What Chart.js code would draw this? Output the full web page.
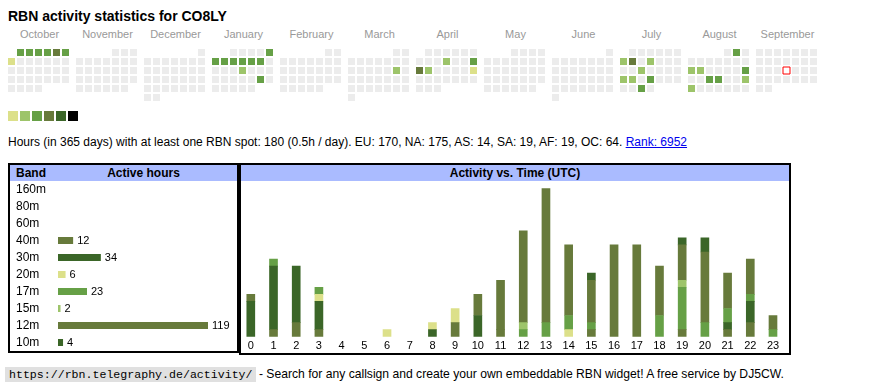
<!DOCTYPE html>
<html>
<head>
<meta charset="utf-8">
<script src="https://cdn.jsdelivr.net/npm/chart.js@4/dist/chart.umd.min.js"></script>
<style>
  html, body { margin:0; padding:0; background:#fff; }
  body { width:870px; height:390px; position:relative; overflow:hidden; font-family:"Liberation Sans", Arial, sans-serif; color:#000; }
  .abs { position:absolute; }
  #title { left:8px; top:9px; font-size:14px; line-height:14px; font-weight:bold; white-space:nowrap; }
  .month { top:29.4px; font-size:11px; line-height:11px; color:#999; width:63px; text-align:center; white-space:nowrap; }
  .leg { top:111px; width:10px; height:10px; }
  #stats { left:8px; top:135px; font-size:12px; line-height:15px; white-space:nowrap; }
  #stats a { color:#0000ee; text-decoration:underline; }
  .box { border:2px solid #000; box-sizing:border-box; z-index:5; }
  .hdr { background:#aabbff; height:16px; font-size:12px; line-height:16px; font-weight:bold; }
  #footer { left:5px; top:367px; font-size:12.15px; line-height:15px; white-space:nowrap; }
  #footer code { font-family:"Liberation Mono", "DejaVu Sans Mono", monospace; font-size:11.6px; background:#e0e0e0; padding:1px 3px 1px 4px; }
</style>
</head>
<body>
<div id="title" class="abs">RBN activity statistics for CO8LY</div>
<div id="months"></div>
<canvas id="cal" class="abs" width="870" height="130" style="left:0;top:0;width:870px;height:130px;"></canvas>
<div id="legend"></div>
<div id="stats" class="abs">Hours (in 365 days) with at least one RBN spot: 180 (0.5h / day). EU: 170, NA: 175, AS: 14, SA: 19, AF: 19, OC: 64. <a href="#">Rank: 6952</a></div>

<canvas id="bands" class="abs" width="227" height="170" style="left:10px;top:181px;width:227px;height:170px;"></canvas>
<canvas id="hours" class="abs" width="552" height="172" style="left:239px;top:181px;width:552px;height:172px;"></canvas>

<div class="abs box" style="left:8px;top:163px;width:231px;height:190px;"></div>
<div class="abs hdr" style="left:10px;top:165px;width:227px;">
  <span class="abs" style="left:6px;top:0;">Band</span>
  <span class="abs" style="left:40px;width:187px;top:0;text-align:center;">Active hours</span>
</div>
<div class="abs box" style="left:239px;top:163px;width:552px;height:192px;"></div>
<div class="abs hdr" style="left:241px;top:165px;width:548px;text-align:center;">Activity vs. Time (UTC)</div>

<div id="footer" class="abs"><code>https://rbn.telegraphy.de/activity/</code> - Search for any callsign and create your own embeddable RBN widget! A free service by DJ5CW.</div>

<script>
// ---------- DATA ----------
const monthNames = ['October','November','December','January','February','March','April','May','June','July','August','September'];
const startYear = 2024;
const startMonth = 9; // October (0-based)
const today = '2025-09-18';

const activeDates = [
  '2024-10-01','2024-10-02','2024-10-03','2024-10-04','2024-10-05','2024-10-06','2024-10-07',
  '2025-01-05','2025-01-06','2025-01-07','2025-01-08','2025-01-09','2025-01-10','2025-01-11','2025-01-16','2025-01-25',
  '2025-03-15',
  '2025-04-10','2025-04-13','2025-04-14','2025-04-15','2025-04-20',
  '2025-07-07','2025-07-08','2025-07-10','2025-07-16','2025-07-21','2025-07-22','2025-07-24','2025-07-30',
  '2025-08-02','2025-08-11','2025-08-12','2025-08-17','2025-08-20','2025-08-21','2025-08-24','2025-08-25'
];
const activeLevels = [
  3,3,3,3,4,3,1,
  3,3,3,3,3,3,3,2,3,
  2,
  2,3,4,2,1,
  2,4,2,2,2,2,3,3,
  3,2,2,3,3,3,2,2
];
const levelColors = ['#ececec','#dce08a','#9dc46a','#66a046','#677a3b','#3b6628','#000000'];

const bands = ['160m','80m','60m','40m','30m','20m','17m','15m','12m','10m'];
const bandHours = [0,0,0,12,34,6,23,2,119,4];
const bandColors = ['#dce08a','#9dc46a','#66a046','#677a3b','#3b6628','#dce08a','#66a046','#9dc46a','#677a3b','#3b6628'];

const hourLabels = ['0','1','2','3','4','5','6','7','8','9','10','11','12','13','14','15','16','17','18','19','20','21','22','23'];
const h160m = [0,0,0,0,0,0,0,0,0,0,0,0,0,0,0,0,0,0,0,0,0,0,0,0];
const h80m  = [0,0,0,0,0,0,0,0,0,0,0,0,0,0,0,0,0,0,0,0,0,0,0,0];
const h60m  = [0,0,0,0,0,0,0,0,0,0,0,0,0,0,0,0,0,0,0,0,0,0,0,0];
const h40m  = [0,1,2,1,0,0,0,0,0,2,0,1,0,0,0,1,0,0,0,1,0,1,2,0];
const h30m  = [5,9,8,4,0,0,0,0,1,0,3,0,0,0,0,0,0,0,0,0,0,1,3,0];
const h20m  = [0,0,0,1,0,0,1,0,1,2,0,0,0,0,1,0,0,0,0,0,0,0,0,0];
const h17m  = [0,1,0,1,0,0,0,0,0,0,0,0,1,2,2,1,0,0,3,6,2,2,1,1];
const h15m  = [0,0,0,0,0,0,0,0,0,0,0,0,1,0,0,0,0,0,0,1,0,0,0,0];
const h12m  = [1,0,0,0,0,0,0,0,0,0,3,7,13,19,10,6,13,13,7,5,10,5,5,2];
const h10m  = [0,0,0,0,0,0,0,0,0,0,0,0,0,0,0,1,0,0,0,1,2,0,0,0];
const hourSeries = [h160m,h80m,h60m,h40m,h30m,h20m,h17m,h15m,h12m,h10m];
const hourAxisMax = 22;

// ---------- LAYOUT ----------
Chart.defaults.font.family = '"Liberation Sans", Arial, sans-serif';
Chart.defaults.animation = false;
Chart.defaults.plugins.legend.display = false;
Chart.defaults.plugins.tooltip.enabled = false;

const CELL = 9, CELLSIZE = 7, MONTH_PX = 68, CAL_LEFT = 8, CAL_TOP = 49;
const nz = arr => arr.map(v => (v === 0 ? null : v)); // empty cells draw nothing

// month labels
const monthsDiv = document.getElementById('months');
monthNames.forEach((n, m) => {
  const d = document.createElement('div');
  d.className = 'abs month';
  d.style.left = (CAL_LEFT + MONTH_PX * m) + 'px';
  d.textContent = n;
  monthsDiv.appendChild(d);
});
// legend squares
const legDiv = document.getElementById('legend');
levelColors.slice(1).forEach((c, i) => {
  const d = document.createElement('div');
  d.className = 'abs leg';
  d.style.left = (8 + 12 * i) + 'px';
  d.style.background = c;
  legDiv.appendChild(d);
});

// calendar points
const levelByDate = {};
activeDates.forEach((d, i) => levelByDate[d] = activeLevels[i]);
const pad2 = n => (n < 10 ? '0' : '') + n;
const calPts = [], calCols = [], todayPts = [];
for (let m = 0; m < 12; m++) {
  const y = startYear + Math.floor((startMonth + m) / 12);
  const mo = (startMonth + m) % 12;
  const offset = (new Date(Date.UTC(y, mo, 1)).getUTCDay() + 6) % 7;
  const days = new Date(Date.UTC(y, mo + 1, 0)).getUTCDate();
  for (let d = 1; d <= days; d++) {
    const idx = offset + d - 1;
    const key = y + '-' + pad2(mo + 1) + '-' + pad2(d);
    const pt = { x: m * MONTH_PX / CELL + (idx % 7), y: Math.floor(idx / 7) };
    if (key === today) { todayPts.push(pt); continue; }
    calPts.push(pt);
    calCols.push(levelColors[levelByDate[key] || 0]);
  }
}
const xMin = -(CAL_LEFT + CELLSIZE / 2) / CELL;
const yMin = -(CAL_TOP + CELLSIZE / 2) / CELL;
const rectR = (CELLSIZE / 2) / Math.SQRT1_2;
new Chart(document.getElementById('cal'), {
  type: 'scatter',
  data: { datasets: [
    { data: calPts, pointStyle: 'rect', pointRadius: rectR, pointHoverRadius: rectR, pointBorderWidth: 0, pointBackgroundColor: calCols },
    { data: todayPts, pointStyle: 'rect', pointRadius: rectR, pointHoverRadius: rectR, pointBorderWidth: 1, pointBorderColor: '#ff0000', pointBackgroundColor: '#ffffff' }
  ]},
  options: {
    responsive: false, events: [],
    layout: { padding: 0, autoPadding: false },
    scales: {
      x: { type: 'linear', display: false, bounds: 'data', min: xMin, max: xMin + 870 / CELL },
      y: { type: 'linear', display: false, bounds: 'data', reverse: true, min: yMin, max: yMin + 130 / CELL }
    }
  }
});

// band bar chart
const valueLabels = {
  id: 'valueLabels',
  afterDatasetsDraw(chart) {
    const ctx = chart.ctx;
    const meta = chart.getDatasetMeta(0);
    ctx.save();
    ctx.font = '11px "Liberation Sans", Arial, sans-serif';
    ctx.fillStyle = '#000';
    ctx.textBaseline = 'middle';
    ctx.textAlign = 'left';
    meta.data.forEach((el, i) => {
      const v = chart.data.datasets[0].data[i];
      if (v > 0) ctx.fillText(String(v), el.x + 4, el.y + 0.5);
    });
    ctx.restore();
  }
};
new Chart(document.getElementById('bands'), {
  type: 'bar',
  data: { labels: bands, datasets: [{ data: nz(bandHours), backgroundColor: bandColors, barThickness: 7, borderWidth: 0, inflateAmount: 0 }] },
  options: {
    responsive: false, events: [], indexAxis: 'y',
    layout: { padding: { left: 6, right: 29, top: 0, bottom: 0 }, autoPadding: false },
    scales: {
      x: { display: false, min: 0, max: Math.max(...bandHours) },
      y: {
        grid: { display: false, drawTicks: false }, border: { display: false },
        ticks: { crossAlign: 'far', padding: 0, color: '#000', font: { size: 12 }, autoSkip: false },
        afterFit(s) { s.width = 42; s.paddingTop = 0; s.paddingBottom = 0; }
      }
    }
  },
  plugins: [valueLabels]
});

// hourly stacked chart
new Chart(document.getElementById('hours'), {
  type: 'bar',
  data: {
    labels: hourLabels,
    datasets: bands.map((b, i) => ({ label: b, data: nz(hourSeries[i]), backgroundColor: bandColors[i], barThickness: 8, borderWidth: 0, stack: 's' }))
  },
  options: {
    responsive: false, events: [],
    layout: { padding: { left: 0.45, right: 6.65, top: 0.4, bottom: 0 }, autoPadding: false },
    scales: {
      x: {
        stacked: true,
        grid: { display: false, drawTicks: false }, border: { display: false },
        ticks: { color: '#000', font: { size: 11 }, padding: 3, maxRotation: 0, autoSkip: false },
        afterFit(s) { s.height = 16.3; s.paddingLeft = 0; s.paddingRight = 0; }
      },
      y: { stacked: true, display: false, min: 0, max: hourAxisMax }
    }
  }
});
</script>
</body>
</html>
